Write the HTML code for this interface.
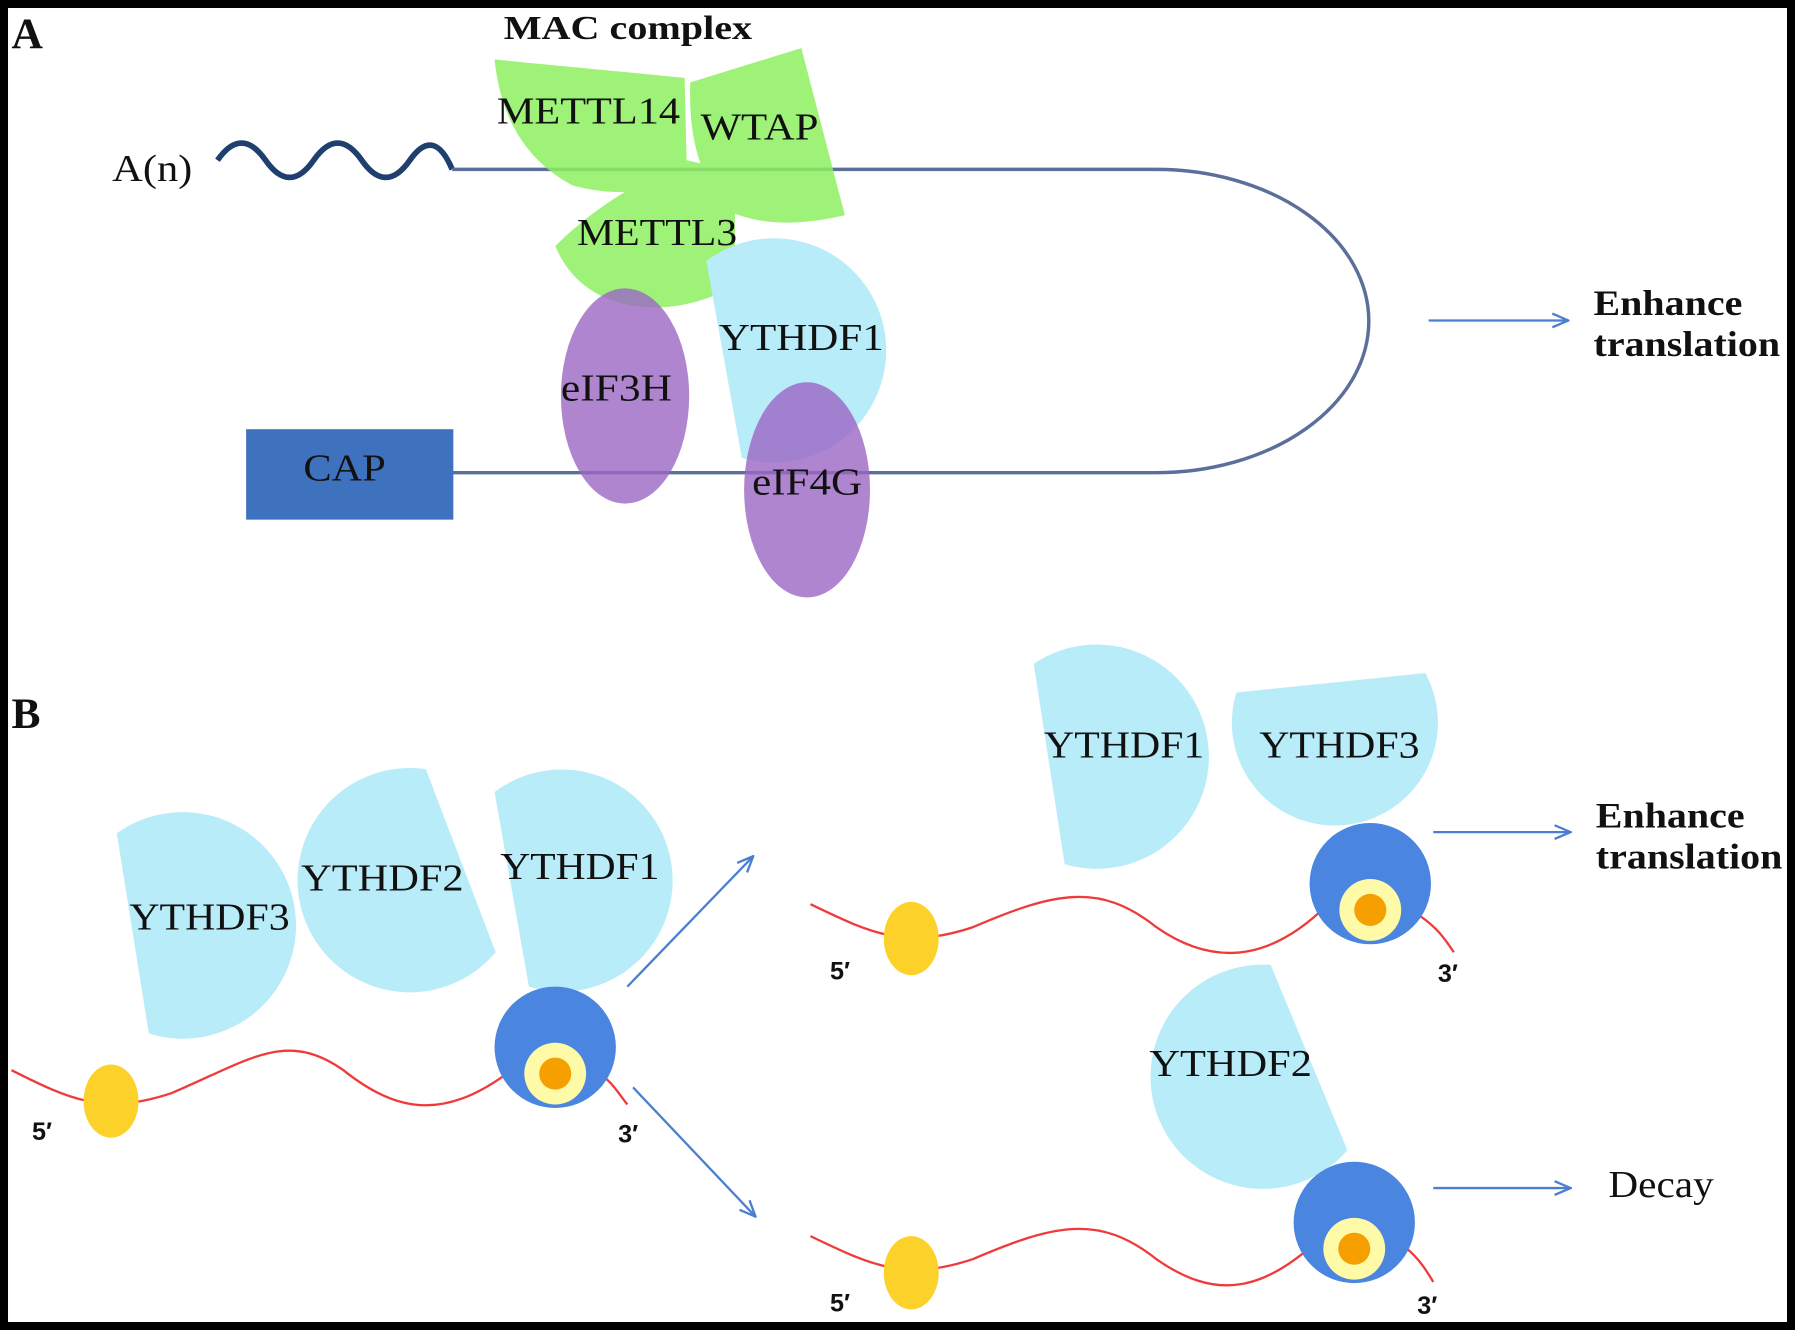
<!DOCTYPE html>
<html><head><meta charset="utf-8"><style>
html,body{margin:0;padding:0;background:#fff;}
svg{display:block;}
text{font-family:"Liberation Serif",serif;fill:#111;}
</style></head><body>
<svg width="1795" height="1330" viewBox="0 0 1568 1162" preserveAspectRatio="none" xmlns="http://www.w3.org/2000/svg">
<defs>
<marker id="ar" markerWidth="16" markerHeight="14" refX="15" refY="7" orient="auto" markerUnits="userSpaceOnUse">
<path d="M1 1 L15 7 L1 13" fill="none" stroke="#4a7fd0" stroke-width="2"/>
</marker>
</defs>
<rect x="3.5" y="3.5" width="1561" height="1155" fill="#fff" stroke="#000" stroke-width="7"/>

<!-- Part A -->
<text x="10" y="42" font-size="38" font-weight="bold">A</text>
<text x="440" y="34" font-size="30" font-weight="bold" textLength="217" lengthAdjust="spacingAndGlyphs">MAC complex</text>
<text x="98" y="158" font-size="33" textLength="70" lengthAdjust="spacingAndGlyphs">A(n)</text>
<path d="M190 140 Q211 110 232 140 T274 140 T316 140 T358 140 T395 148" fill="none" stroke="#1f3f6e" stroke-width="5"/>
<path d="M395 148 L1010 148 A185 132 0 0 1 1010 413 L395 413" fill="none" stroke="#5a6f9a" stroke-width="3"/>
<rect x="215" y="375" width="181" height="79" fill="#3e72be"/>
<text x="265" y="420" font-size="33" textLength="72" lengthAdjust="spacingAndGlyphs">CAP</text>

<g fill="#8ef060" opacity="0.85">
<path d="M432 52 L598 68 L600 150 Q560 178 500 162 Q440 130 432 52 Z"/>
<path d="M603 72 L700 42 L738 188 Q680 202 640 186 Q600 150 603 72 Z"/>
<path d="M642 150 L642 250 Q600 272 560 268 Q505 262 485 215 Q530 170 600 140 Z"/>
</g>
<path d="M617 228 A98 98 0 1 1 648 400 Z" fill="#b9ecf9"/>
<ellipse cx="546" cy="346" rx="56" ry="94" fill="#9b66c4" opacity="0.8"/>
<ellipse cx="705" cy="428" rx="55" ry="94" fill="#9b66c4" opacity="0.8"/>
<g font-size="33">
<text x="434" y="108" textLength="160" lengthAdjust="spacingAndGlyphs">METTL14</text>
<text x="612" y="122" textLength="103" lengthAdjust="spacingAndGlyphs">WTAP</text>
<text x="504" y="214" textLength="140" lengthAdjust="spacingAndGlyphs">METTL3</text>
<text x="628" y="306" textLength="144" lengthAdjust="spacingAndGlyphs">YTHDF1</text>
<text x="490" y="350" textLength="97" lengthAdjust="spacingAndGlyphs">eIF3H</text>
<text x="657" y="432" textLength="96" lengthAdjust="spacingAndGlyphs">eIF4G</text>
</g>
<line x1="1248" y1="280" x2="1370" y2="280" stroke="#4a7fd0" stroke-width="2" marker-end="url(#ar)"/>
<text x="1392" y="275" font-size="31" font-weight="bold" textLength="130" lengthAdjust="spacingAndGlyphs">Enhance</text>
<text x="1392" y="311" font-size="31" font-weight="bold" textLength="163" lengthAdjust="spacingAndGlyphs">translation</text>

<!-- Part B -->
<text x="10" y="636" font-size="38" font-weight="bold">B</text>
<g fill="#b9ecf9">
<path d="M102 728 A99 99 0 1 1 130 903 Z"/>
<path d="M433 832 A98 98 0 1 1 372 672 Z"/>
<path d="M432 692 A97 97 0 1 1 462 862 Z"/>
<path d="M903 580 A98 98 0 1 1 930 755 Z"/>
<path d="M1245 588 A90 90 0 1 1 1080 605 Z"/>
<path d="M1177 1005 A98 98 0 1 1 1110 843 Z"/>
</g>
<g font-size="33">
<text x="113" y="812" textLength="140" lengthAdjust="spacingAndGlyphs">YTHDF3</text>
<text x="263" y="778" textLength="142" lengthAdjust="spacingAndGlyphs">YTHDF2</text>
<text x="437" y="768" textLength="139" lengthAdjust="spacingAndGlyphs">YTHDF1</text>
<text x="912" y="662" textLength="140" lengthAdjust="spacingAndGlyphs">YTHDF1</text>
<text x="1100" y="662" textLength="140" lengthAdjust="spacingAndGlyphs">YTHDF3</text>
<text x="1004" y="940" textLength="142" lengthAdjust="spacingAndGlyphs">YTHDF2</text>
</g>

<g fill="none" stroke="#f03a3a" stroke-width="2">
<path d="M10 935 C60 960 90 975 150 955 C220 925 250 900 300 935 C350 975 390 975 440 940 M520 935 C535 945 540 955 548 965"/>
<path d="M708 790 C760 815 790 830 850 810 C920 780 960 770 1010 810 C1060 845 1110 840 1160 790 M1240 800 C1255 810 1262 820 1270 832"/>
<path d="M708 1080 C760 1105 790 1120 850 1100 C920 1070 960 1060 1010 1100 C1060 1135 1100 1130 1150 1085 M1228 1090 C1240 1100 1246 1110 1252 1120"/>
</g>
<g fill="#fcd22a">
<ellipse cx="97" cy="962" rx="24" ry="32"/>
<ellipse cx="796" cy="820" rx="24" ry="32"/>
<ellipse cx="796" cy="1112" rx="24" ry="32"/>
</g>
<g>
<circle cx="485" cy="915" r="53" fill="#4a86e0"/>
<circle cx="485" cy="938" r="27" fill="#fffaa8"/>
<circle cx="485" cy="938" r="14" fill="#f5a000"/>
<circle cx="1197" cy="772" r="53" fill="#4a86e0"/>
<circle cx="1197" cy="795" r="27" fill="#fffaa8"/>
<circle cx="1197" cy="795" r="14" fill="#f5a000"/>
<circle cx="1183" cy="1068" r="53" fill="#4a86e0"/>
<circle cx="1183" cy="1091" r="27" fill="#fffaa8"/>
<circle cx="1183" cy="1091" r="14" fill="#f5a000"/>
</g>
<g font-size="22" font-weight="bold">
<text x="28" y="996" style="font-family:'Liberation Sans',sans-serif">5′</text>
<text x="540" y="998" style="font-family:'Liberation Sans',sans-serif">3′</text>
<text x="725" y="856" style="font-family:'Liberation Sans',sans-serif">5′</text>
<text x="1256" y="858" style="font-family:'Liberation Sans',sans-serif">3′</text>
<text x="725" y="1146" style="font-family:'Liberation Sans',sans-serif">5′</text>
<text x="1238" y="1148" style="font-family:'Liberation Sans',sans-serif">3′</text>
</g>
<line x1="548" y1="862" x2="658" y2="748" stroke="#4a7fd0" stroke-width="2" marker-end="url(#ar)"/>
<line x1="553" y1="950" x2="660" y2="1063" stroke="#4a7fd0" stroke-width="2" marker-end="url(#ar)"/>
<line x1="1252" y1="727" x2="1372" y2="727" stroke="#4a7fd0" stroke-width="2" marker-end="url(#ar)"/>
<line x1="1252" y1="1038" x2="1372" y2="1038" stroke="#4a7fd0" stroke-width="2" marker-end="url(#ar)"/>
<text x="1394" y="723" font-size="31" font-weight="bold" textLength="130" lengthAdjust="spacingAndGlyphs">Enhance</text>
<text x="1394" y="759" font-size="31" font-weight="bold" textLength="163" lengthAdjust="spacingAndGlyphs">translation</text>
<text x="1405" y="1046" font-size="33" textLength="92" lengthAdjust="spacingAndGlyphs">Decay</text>
</svg>
</body></html>
